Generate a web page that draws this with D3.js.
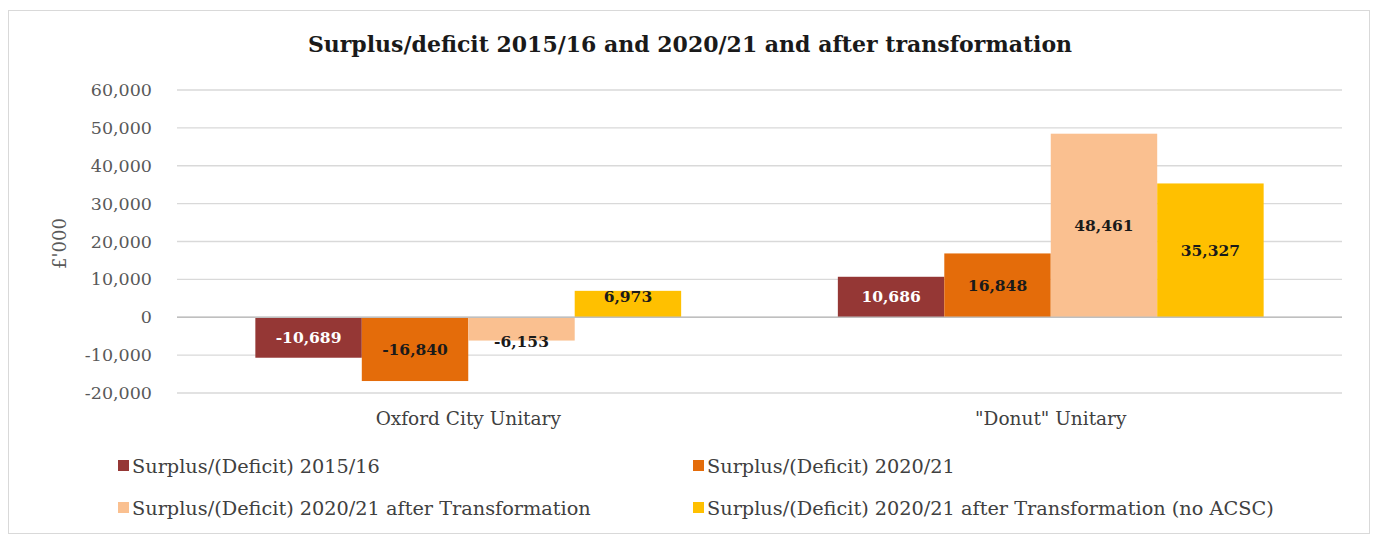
<!DOCTYPE html>
<html>
<head>
<meta charset="utf-8">
<script src="https://cdnjs.cloudflare.com/ajax/libs/d3/7.8.5/d3.min.js"></script>
<style>
  body { margin: 0; background: #fff; overflow: hidden; }
  svg { display: block; }
  svg text { font-family: "DejaVu Serif", "Liberation Serif", serif; }
</style>
</head>
<body>
<div id="chart"></div>
<script>
// chart data
const categories = ["Oxford City Unitary", "\"Donut\" Unitary"];
const seriesNames = [
  "Surplus/(Deficit) 2015/16",
  "Surplus/(Deficit) 2020/21",
  "Surplus/(Deficit) 2020/21 after Transformation",
  "Surplus/(Deficit) 2020/21 after Transformation (no ACSC)"
];
const values2015 = [-10689, 10686];
const values2020 = [-16840, 16848];
const valuesAfter = [-6153, 48461];
const valuesNoAcsc = [6973, 35327];
const yTicks = [-20000, -10000, 0, 10000, 20000, 30000, 40000, 50000, 60000];

const colors = ["#953735", "#e46c0a", "#fac090", "#ffc000"];
const labelColors = ["#ffffff", "#1a1a1a", "#1a1a1a", "#1a1a1a"];
const allSeries = [values2015, values2020, valuesAfter, valuesNoAcsc];

// plain hyphen for negatives, like the original
const fmt = d3.formatLocale({ decimal: ".", thousands: ",", grouping: [3], currency: ["£", ""], minus: "-" }).format(",");

const width = 1374, height = 536;
const margin = { top: 90, right: 32, bottom: 143, left: 177 };
const innerWidth = width - margin.left - margin.right;
const innerHeight = height - margin.top - margin.bottom;

const svg = d3.select("#chart").append("svg")
  .attr("width", width)
  .attr("height", height);

// outer frame
svg.append("rect")
  .attr("x", 8.5).attr("y", 10.5)
  .attr("width", 1361).attr("height", 523)
  .attr("fill", "#fff")
  .attr("stroke", "#d9d9d9");

// title
svg.append("text")
  .attr("x", 690).attr("y", 52)
  .attr("text-anchor", "middle")
  .attr("font-size", 22)
  .attr("font-weight", "bold")
  .attr("fill", "#1a1a1a")
  .text("Surplus/deficit 2015/16 and 2020/21 and after transformation");

const g = svg.append("g").attr("transform", `translate(${margin.left},${margin.top})`);

// scales
const x0 = d3.scaleBand().domain(categories).range([0, innerWidth])
  .paddingInner(0.269).paddingOuter(0.1345);
const x1 = d3.scaleBand().domain(d3.range(seriesNames.length)).range([0, x0.bandwidth()]);
const y = d3.scaleLinear().domain([-20000, 60000]).range([innerHeight, 0]);

// gridlines
g.append("g").selectAll("line").data(yTicks).join("line")
  .attr("x1", 0).attr("x2", innerWidth)
  .attr("y1", d => y(d)).attr("y2", d => y(d))
  .attr("stroke", "#d9d9d9").attr("stroke-width", 1.3);

// y axis labels
const yAxis = d3.axisLeft(y).tickValues(yTicks).tickSize(0).tickPadding(25)
  .tickFormat(fmt);
g.append("g").call(yAxis)
  .call(a => a.select(".domain").remove())
  .selectAll("text")
  .attr("font-size", 17.5)
  .attr("fill", "#595959")
  .style("font-family", "\"DejaVu Serif\", serif");

// y axis title
svg.append("text")
  .attr("transform", `translate(66,${margin.top + y(20000) + 2}) rotate(-90)`)
  .attr("text-anchor", "middle")
  .attr("font-size", 18)
  .attr("fill", "#595959")
  .text("£'000");

// bars
const groups = g.selectAll(".cat").data(categories).join("g")
  .attr("class", "cat")
  .attr("transform", d => `translate(${x0(d)},0)`);

groups.each(function(cat, ci) {
  const sel = d3.select(this);
  allSeries.forEach((vals, si) => {
    const v = vals[ci];
    sel.append("rect")
      .attr("x", x1(si))
      .attr("width", x1.bandwidth())
      .attr("y", y(Math.max(0, v)))
      .attr("height", Math.abs(y(v) - y(0)))
      .attr("fill", colors[si]);
  });
  allSeries.forEach((vals, si) => {
    const v = vals[ci];
    const h = Math.abs(y(v) - y(0));
    let ly = (y(v) + y(0)) / 2;
    // small bars: label sits towards the bar end
    if (h < 30) ly = v < 0 ? y(v) + 1 : y(v) + 6;
    sel.append("text")
      .attr("x", x1(si) + x1.bandwidth() / 2)
      .attr("y", ly)
      .attr("dy", "0.35em")
      .attr("text-anchor", "middle")
      .attr("font-size", 15.5)
      .attr("font-weight", "bold")
      .attr("fill", labelColors[si])
      .text(fmt(v));
  });
});

// zero line
g.append("line")
  .attr("x1", 0).attr("x2", innerWidth)
  .attr("y1", y(0)).attr("y2", y(0))
  .attr("stroke", "#bfbfbf").attr("stroke-width", 1.5);

// category labels
g.selectAll(".catlabel").data(categories).join("text")
  .attr("class", "catlabel")
  .attr("x", d => x0(d) + x0.bandwidth() / 2)
  .attr("y", innerHeight + 32)
  .attr("text-anchor", "middle")
  .attr("font-size", 18.5)
  .attr("fill", "#404040")
  .text(d => d);

// legend
const legendPos = [[118, 466], [693, 466], [118, 508], [693, 508]];
const legend = svg.selectAll(".leg").data(seriesNames).join("g")
  .attr("class", "leg")
  .attr("transform", (d, i) => `translate(${legendPos[i][0]},${legendPos[i][1]})`);
legend.append("rect")
  .attr("x", 0).attr("y", -6).attr("width", 11).attr("height", 11)
  .attr("fill", (d, i) => colors[i]);
legend.append("text")
  .attr("x", 14).attr("y", 0).attr("dy", "0.35em")
  .attr("font-size", 19.3)
  .attr("fill", "#404040")
  .text(d => d);
</script>
</body>
</html>
